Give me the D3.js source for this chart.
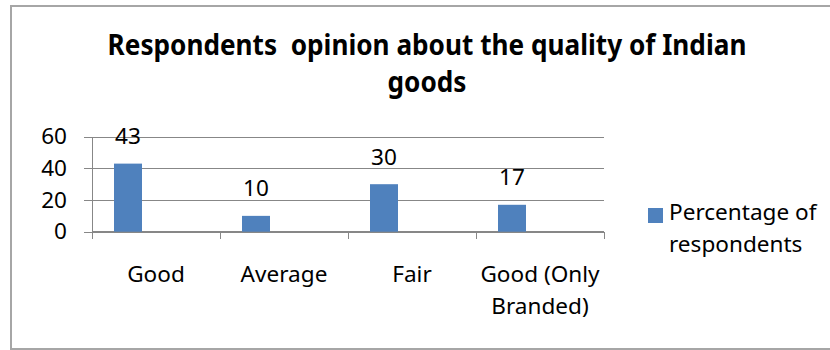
<!DOCTYPE html>
<html>
<head>
<meta charset="utf-8">
<script src="https://cdn.jsdelivr.net/npm/d3@7"></script>
<style>
  html, body { margin: 0; padding: 0; background: #fff; }
  svg { display: block; }
  svg text { white-space: pre; }
</style>
</head>
<body>
<svg id="chart" width="830" height="350"></svg>
<script>
// Survey results: share of respondents per opinion
const categories = ["Good", "Average", "Fair", "Good (Only Branded)"];
const categoryLines = [["Good"], ["Average"], ["Fair"], ["Good (Only", "Branded)"]];
const percentages = [43, 10, 30, 17];
const yTicks = [0, 20, 40, 60];
const seriesName = ["Percentage of", "respondents"];
const titleLines = ["Respondents  opinion about the quality of Indian", "goods"];

const W = 830, H = 350;
const plot = { left: 92, right: 604, top: 136.7, bottom: 231.7 };
const barColor = "#4F81BD";
const gridColor = "#878787";
const bodyFont = "'Noto Sans', 'Open Sans', sans-serif";
const BODY_SX = 1.075;   // horizontal stretch of body text
const TITLE_SX = 0.935;  // horizontal squeeze of title text

const svg = d3.select("#chart");

// outer frame
svg.append("rect")
  .attr("x", 11).attr("y", 6)
  .attr("width", W).attr("height", 343)
  .attr("fill", "#fff")
  .attr("stroke", "#a6a6a6")
  .attr("stroke-width", 2);

const x = d3.scaleBand().domain(categories).range([plot.left, plot.right]);
const y = d3.scaleLinear().domain([0, 60]).range([plot.bottom, plot.top]);

// helper: text placed at (px,py) with horizontal stretch
function label(parent, px, py, str, opts) {
  const o = Object.assign({ size: 21, anchor: "middle", weight: "normal", sx: BODY_SX }, opts || {});
  return parent.append("text")
    .attr("transform", `translate(${px},${py}) scale(${o.sx},1)`)
    .attr("text-anchor", o.anchor)
    .attr("font-family", bodyFont)
    .attr("font-size", o.size)
    .attr("font-weight", o.weight)
    .attr("fill", "#000")
    .text(str);
}

// y gridlines + tick marks
const yAxis = d3.axisLeft(y)
  .tickValues(yTicks)
  .tickSize(-(plot.right - plot.left))
  .tickSizeOuter(0)
  .tickFormat("");
const gy = svg.append("g")
  .attr("transform", `translate(${plot.left},0)`)
  .call(yAxis);
gy.select(".domain").remove();
gy.selectAll(".tick line")
  .attr("x1", -8)
  .attr("stroke", gridColor)
  .attr("shape-rendering", "crispEdges");

// y axis line
svg.append("line")
  .attr("x1", plot.left).attr("x2", plot.left)
  .attr("y1", plot.top).attr("y2", plot.bottom)
  .attr("stroke", gridColor)
  .attr("shape-rendering", "crispEdges");

// y tick labels
yTicks.forEach(t => {
  label(svg, plot.left - 25, y(t) + 7.5, String(t), { anchor: "end" });
});

// x axis with boundary ticks
const boundaries = categories.map(c => x(c)).concat([plot.right]);
svg.append("line")
  .attr("x1", plot.left).attr("x2", plot.right)
  .attr("y1", plot.bottom).attr("y2", plot.bottom)
  .attr("stroke", gridColor)
  .attr("shape-rendering", "crispEdges");
svg.selectAll("line.xtick")
  .data(boundaries)
  .join("line")
  .attr("class", "xtick")
  .attr("x1", d => d).attr("x2", d => d)
  .attr("y1", plot.bottom).attr("y2", plot.bottom + 7)
  .attr("stroke", gridColor)
  .attr("shape-rendering", "crispEdges");

// bars (first of three series slots in each category)
const bw = x.bandwidth();
const barOffset = bw * 22 / 128;
const barWidth = bw * 28 / 128;
svg.selectAll("rect.bar")
  .data(percentages)
  .join("rect")
  .attr("class", "bar")
  .attr("x", (d, i) => x(categories[i]) + barOffset)
  .attr("width", barWidth)
  .attr("y", d => y(d))
  .attr("height", d => y(0) - y(d))
  .attr("fill", barColor);

// value labels
percentages.forEach((v, i) => {
  label(svg, x(categories[i]) + barOffset + barWidth / 2, y(v) - 19.5, String(v));
});

// category labels
categoryLines.forEach((lines, i) => {
  lines.forEach((ln, j) => {
    label(svg, x(categories[i]) + bw / 2, 282 + j * 31.5, ln);
  });
});

// legend
svg.append("rect")
  .attr("x", 648).attr("y", 208)
  .attr("width", 15).attr("height", 15)
  .attr("fill", barColor);
seriesName.forEach((ln, j) => {
  label(svg, 669, 220 + j * 31.5, ln, { anchor: "start" });
});

// title
titleLines.forEach((ln, j) => {
  label(svg, 427, 55 + j * 37, ln, { size: 28, weight: "bold", sx: TITLE_SX });
});
</script>
</body>
</html>
